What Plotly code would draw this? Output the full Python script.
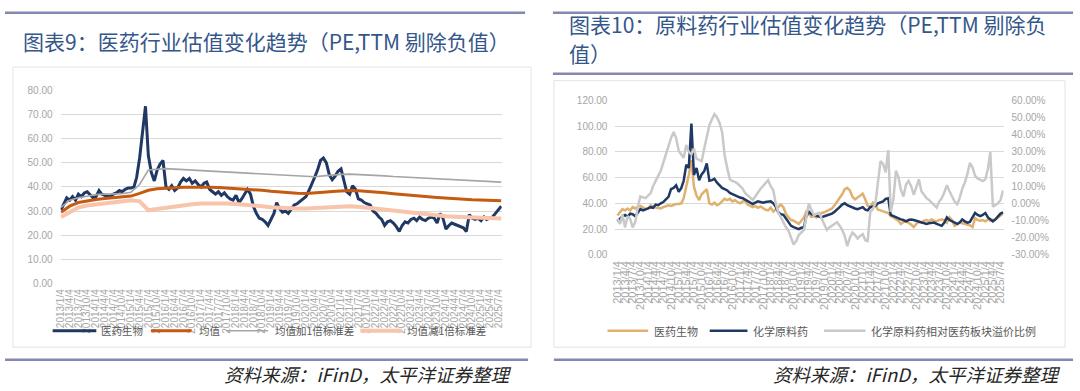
import plotly.graph_objects as go

W, H = 1080, 391

# ---------------- data ----------------
months = [f"{2013 + i // 12}-{i % 12 + 1:02d}-04" for i in range(152)]
quarter_dates = months[0:151:3]
smooth_dates = quarter_dates + [months[151]]
tick_labels = [f"{2013 + i // 12}/{i % 12 + 1}/4" for i in range(0, 151, 3)]

# 医药生物 PE (TTM)
pe_med = [
    30.5, 33, 35.5, 34.5, 36, 34.5, 37, 36, 37.5, 38, 36.5, 35.5,
    36, 38.5, 37, 36.5, 36, 36, 37, 37.5, 38.5, 38, 39, 39.5,
    39.5, 40, 44, 52, 62, 73.5, 53, 46, 42.5, 47, 49.5, 51,
    40, 39, 40.5, 38.5, 39.5, 42, 43.5, 42.5, 43.5, 41.5, 42.5, 41,
    40, 41.5, 42, 39, 38, 37, 38, 36.5, 37.5, 36, 35, 34.5,
    36.5, 33.5, 35, 37, 39, 37, 32, 29, 27, 26.5, 25.5, 24,
    26.5, 29, 33.5, 31, 29.5, 30, 29, 31, 32.5, 33, 34, 35,
    36, 38.5, 41, 44, 47, 51, 52, 50, 45, 43, 44.5, 46.5,
    47.5, 43, 38, 37, 40.5, 39, 35, 34.5, 33.5, 33, 32.5, 30,
    29, 27.5, 26.5, 24, 25.5, 26, 25, 23.5, 21.5, 24, 25.5, 25,
    26.5, 27, 26, 27.5, 26.5, 26, 27, 27.5, 27, 25, 29, 27,
    22.5, 24, 25, 24.5, 24, 23.5, 23, 21.5, 28.5, 27, 26.5, 27,
    26, 27.5, 26.5, 27, 27.5, 29, 30.5, 32,
]
# 均值
pe_mean = [
    29.5, 32, 33.5, 34.3, 34.8, 35.2, 35.5, 35.8, 36.2, 37.3, 38.6, 39.2,
    39.6, 39.7, 39.9, 40, 40, 39.9, 39.8, 39.6, 39.4, 39.2, 39, 38.6,
    38.2, 37.9, 37.6, 37.4, 37.3, 37.4, 37.8, 38.1, 38.4, 38.5, 38.4, 38.2,
    38, 37.6, 37.2, 36.8, 36.5, 36.2, 35.9, 35.6, 35.3, 35.1, 34.9, 34.7,
    34.6, 34.4, 34.3, 34.3,
]
# 均值加1倍标准差
pe_plus = [
    31.5, 34.5, 35.5, 36.3, 36.8, 37, 37.1, 37.2, 37.8, 41, 47, 47.3,
    47.6, 47.4, 47.2, 47, 46.8, 46.6, 46.4, 46.2, 46, 45.8, 45.6, 45.4,
    45.2, 45, 44.8, 44.5, 44.3, 44.2, 44.6, 45, 45.2, 45.3, 45.2, 45,
    44.8, 44.6, 44.3, 44.1, 43.9, 43.7, 43.5, 43.3, 43.1, 42.9, 42.7, 42.5,
    42.4, 42.2, 42, 42,
]
# 均值减1倍标准差
pe_minus = [
    27.5, 29.5, 31.5, 32.3, 32.8, 33.4, 33.8, 34.2, 34.5, 34, 30.3, 30.8,
    31.4, 32, 32.4, 32.8, 33.1, 33.2, 33.2, 33.1, 32.9, 32.7, 32.4, 32,
    31.6, 31.3, 31.1, 31, 31, 31.2, 31.5, 31.8, 32, 32, 31.8, 31.4,
    31, 30.4, 29.9, 29.5, 29.1, 28.7, 28.4, 28.1, 27.8, 27.6, 27.4, 27.2,
    27.1, 27, 26.9, 26.9,
]
# 化学原料药 PE (TTM)
pe_api = [
    26, 28.5, 30, 31, 29.5, 32, 31.5, 30, 33, 35.5, 34.5, 35,
    36, 37, 36.5, 39, 38.5, 40, 41, 43, 45, 51, 52, 54,
    49, 52, 57.5, 70, 67.5, 102, 62, 67.5, 58, 62.5, 65, 71,
    57.5, 58, 59, 56, 54, 52, 51, 50, 48, 47, 46, 45,
    44.5, 44, 43, 42, 41, 39.5, 40.5, 41.5, 41, 40.5, 41, 41,
    41.5, 40, 37.5, 33, 31.5, 31, 28, 25, 22.5, 21.5, 20.5, 20,
    21, 21.5, 30, 33.5, 31.5, 31, 30, 29.5, 29, 30, 30.5, 31,
    32, 33.5, 35, 37, 39, 40, 38.5, 37.5, 36.5, 36, 35.5, 36.5,
    37, 35, 34.5, 37, 37.5, 38, 40, 41, 41.5, 43.5, 44, 31,
    30, 29.5, 28.5, 27.5, 27, 26, 27, 27.5, 27, 26.5, 25.5, 25,
    24.5, 24, 24.5, 25, 25, 24, 23, 22.5, 25, 29, 27, 26,
    25, 24, 25, 27.5, 26, 25, 25.5, 29, 32.5, 31, 30, 31,
    32.5, 29, 27.5, 26, 27.5, 30, 32, 33,
]
# 化学原料药相对医药板块溢价比例 (%)
premium = [
    -9, -12, -6.5, -14, -7.5, -9, -14, -11, -2, 4, 3.5, 3,
    4.5, 6, 10, 13.5, 16, 19, 24, 28, 34, 38, 41.5, 38,
    30.5, 28, 26.5, 34, 30, 28.5, 32, 26, 25, 24.5, 32, 38,
    45.5, 49, 52, 50, 47, 41.5, 28, 20.5, 14, 13, 12.5, 11.5,
    10, 8.5, 6, 4.5, 3, 2, 4, 6.5, 8.5, 10, 12, 13.5,
    10, 7.5, 0, -5.5, -8, -11, -14, -16, -20, -24, -22, -18.5,
    -17, -15.5, -8, 0, -4, -7, -6, -5.5, -9, -12, -15.5, -14,
    -13, -12, -11, -13, -15.5, -19, -25, -20, -17, -18.5, -20.5, -19,
    -18, -21.5, -22, -5, -3.5, 0, 12, 24.5, 23, 18, 31, -5,
    2, 19, 15.5, 8, 4, 11, 13, 10, 5, 9, 14, 7,
    5, 3, 2, 0.5, -1, -2.5, 1, 3, 6.5, 10.5, 7, 4,
    1, -0.5, 3, 8.5, 12, 17, 23.5, 21, 16, 14.5, 13.5, 13,
    14, 20, 30, -2, -1, 0, 2, 7.5,
]
left_yticks = [0, 10, 20, 30, 40, 50, 60, 70, 80]
right_yticks = [0, 20, 40, 60, 80, 100, 120]
prem_ticks = [-30, -20, -10, 0, 10, 20, 30, 40, 50, 60]
prem_ticktext = [f"{v:.2f}%" for v in prem_ticks]

NAVY = "#1f3864"
ORANGE = "#c55a11"
GRAY = "#a5a5a5"
SALMON = "#f8c4ab"
TAN = "#e0b16e"
LGRAY = "#c9c9c9"
TICK = "#a6a6a6"
CJK = "Noto Sans CJK SC"


def px(x):
    return x / W


def py(y):
    return 1 - y / H


fig = go.Figure()
# left chart
fig.add_trace(go.Scatter(x=months, y=pe_med, name="医药生物", mode="lines",
                         line=dict(color=NAVY, width=3), xaxis="x", yaxis="y"))
fig.add_trace(go.Scatter(x=smooth_dates, y=pe_mean, name="均值", mode="lines",
                         line=dict(color=ORANGE, width=3), xaxis="x", yaxis="y"))
fig.add_trace(go.Scatter(x=smooth_dates, y=pe_plus, name="均值加1倍标准差", mode="lines",
                         line=dict(color=GRAY, width=1.6), xaxis="x", yaxis="y"))
fig.add_trace(go.Scatter(x=smooth_dates, y=pe_minus, name="均值减1倍标准差", mode="lines",
                         line=dict(color=SALMON, width=4), xaxis="x", yaxis="y"))
# right chart
fig.add_trace(go.Scatter(x=months, y=pe_med, name="医药生物", mode="lines",
                         line=dict(color=TAN, width=2.5), xaxis="x2", yaxis="y2"))
fig.add_trace(go.Scatter(x=months, y=pe_api, name="化学原料药", mode="lines",
                         line=dict(color=NAVY, width=2.5), xaxis="x2", yaxis="y2"))
fig.add_trace(go.Scatter(x=months, y=premium, name="化学原料药相对医药板块溢价比例", mode="lines",
                         line=dict(color=LGRAY, width=2.5), xaxis="x2", yaxis="y3"))

tickfont = dict(family="Liberation Sans, Arial", size=10, color=TICK)
xcommon = dict(type="date", tickmode="array", tickvals=quarter_dates, ticktext=tick_labels,
               tickangle=-90, showgrid=False, showline=False, zeroline=False, ticks="",
               ticklabelstandoff=3)

shapes = []
annotations = []


def hline(x0, x1, y, color, width):
    shapes.append(dict(type="line", xref="paper", yref="paper", x0=px(x0), x1=px(x1),
                       y0=py(y), y1=py(y), line=dict(color=color, width=width)))


def rect(x0, y0, x1, y1, color):
    shapes.append(dict(type="rect", xref="paper", yref="paper", x0=px(x0), x1=px(x1),
                       y0=py(y0), y1=py(y1), line=dict(color=color, width=1),
                       fillcolor="rgba(0,0,0,0)", layer="below"))


def text(x, y, s, size, color, anchor="left", style="normal", family=CJK):
    annotations.append(dict(x=px(x), y=py(y), xref="paper", yref="paper", text=s,
                            showarrow=False, xanchor=anchor, yanchor="middle",
                            font=dict(family=family, size=size, color=color, style=style)))


RULE = "#8587b3"
hline(0, 524, 7, RULE, 2.5)
hline(552, 1076, 7, RULE, 2.5)
hline(552, 1076, 70, RULE, 2.5)
hline(0, 527, 365, RULE, 2.5)
hline(553, 1076, 365, RULE, 2.5)
rect(8, 63, 530, 352, "#e3e3e3")
rect(553, 77, 1068, 352, "#e3e3e3")

TITLE = "#34578a"
text(16, 36, "图表9：医药行业估值变化趋势（PE,TTM 剔除负值）", 21, TITLE)
text(566, 19, "图表10：原料药行业估值变化趋势（PE,TTM 剔除负", 21, TITLE)
text(566, 48, "值）", 21, TITLE)

FOOT = "#262626"
text(219, 380, "资料来源：iFinD，太平洋证券整理", 18.5, FOOT, style="italic")
text(772, 380, "资料来源：iFinD，太平洋证券整理", 18.5, FOOT, style="italic")

LEG = "#595959"
# left legend
hline(48, 92, 335, NAVY, 3)
text(95, 335, "医药生物", 10.5, LEG)
hline(147, 188, 335, ORANGE, 3)
text(193, 335, "均值", 10.5, LEG)
hline(223, 265, 335, GRAY, 1.6)
text(270, 335, "均值加1倍标准差", 10.5, LEG)
hline(358, 400, 335, SALMON, 4)
text(403, 335, "均值减1倍标准差", 10.5, LEG)
# right legend
hline(607, 648, 335, TAN, 2.5)
text(652, 335, "医药生物", 11, LEG)
hline(710, 748, 335, NAVY, 2.5)
text(752, 335, "化学原料药", 11, LEG)
hline(825, 867, 335, LGRAY, 2.5)
text(870, 335, "化学原料药相对医药板块溢价比例", 11, LEG)

fig.update_layout(
    width=W, height=H, autosize=False,
    margin=dict(l=0, r=0, t=0, b=0),
    paper_bgcolor="white", plot_bgcolor="white",
    showlegend=False,
    xaxis=dict(domain=[px(56), px(500.4)], range=["2012-12-30", "2025-08-08"], anchor="y",
               tickfont=tickfont, **xcommon),
    yaxis=dict(domain=[py(286), py(87.3)], range=[0, 80], tickvals=left_yticks,
               tickformat=".2f", gridcolor="#d9d9d9", gridwidth=1, zeroline=False,
               showline=False, ticks="", tickfont=tickfont, ticklabelstandoff=7, anchor="x"),
    xaxis2=dict(domain=[px(615), px(1006)], range=["2012-12-11", "2025-08-09"], anchor="y2",
                tickfont=dict(family="Liberation Sans, Arial", size=11, color=TICK), **xcommon),
    yaxis2=dict(domain=[py(256.7), py(97.3)], range=[0, 120], tickvals=right_yticks,
                tickformat=".2f", gridcolor="#d9d9d9", gridwidth=1, zeroline=False,
                showline=False, ticks="", tickfont=tickfont, ticklabelstandoff=7, anchor="x2"),
    yaxis3=dict(overlaying="y2", side="right", range=[-30, 60], tickmode="array",
                tickvals=prem_ticks, ticktext=prem_ticktext, showgrid=False, zeroline=False,
                showline=False, ticks="", tickfont=tickfont, ticklabelstandoff=7, anchor="x2"),
    shapes=shapes,
    annotations=annotations,
)

fig.write_html("out.html", config={"displayModeBar": False},
               post_script="document.body.style.margin='0';")
